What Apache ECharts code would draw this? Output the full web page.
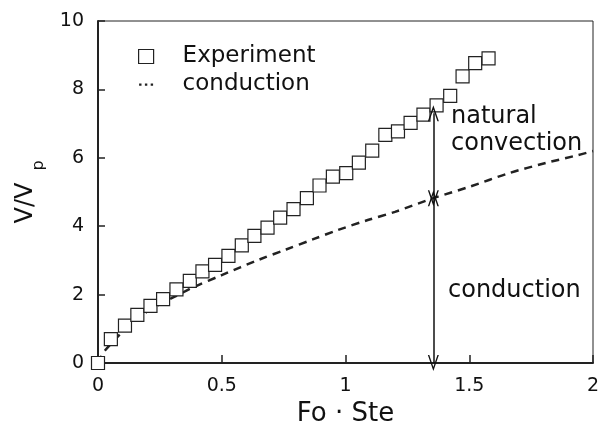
<!DOCTYPE html>
<html>
<head>
<meta charset="utf-8">
<script src="https://cdn.jsdelivr.net/npm/echarts@6/dist/echarts.min.js"></script>
<style>html,body{margin:0;padding:0;background:#fff;}#c{width:608px;height:436px;}</style>
</head>
<body>
<div id="c"></div>
<script>
// Experimental points (squares)
var expX = [0, 0.052, 0.109, 0.159, 0.212, 0.263, 0.317, 0.371, 0.422, 0.473, 0.527, 0.581, 0.632, 0.685, 0.736, 0.790, 0.844, 0.895, 0.949, 1.003, 1.054, 1.108, 1.161, 1.212, 1.263, 1.315, 1.368, 1.423, 1.473, 1.524, 1.578];
var expY = [0, 0.70, 1.09, 1.41, 1.67, 1.87, 2.15, 2.40, 2.68, 2.87, 3.13, 3.44, 3.72, 3.96, 4.25, 4.50, 4.82, 5.19, 5.45, 5.55, 5.86, 6.21, 6.67, 6.77, 7.02, 7.26, 7.53, 7.81, 8.38, 8.77, 8.91];
// Conduction curve (dashed)
var condX = [0, 0.03, 0.15, 0.24, 0.31, 0.39, 0.5, 0.65, 0.76, 0.87, 0.97, 1.09, 1.2, 1.355, 1.5, 1.66, 1.81, 1.94, 2.0];
var condY = [0, 0.38, 1.26, 1.68, 1.94, 2.23, 2.57, 3.02, 3.32, 3.62, 3.89, 4.18, 4.42, 4.82, 5.15, 5.55, 5.85, 6.08, 6.2];
// Axis ticks
var xTicks = [0, 0.5, 1, 1.5, 2];
var yTicks = [0, 2, 4, 6, 8, 10];
// Annotation arrows: x position and levels (0 -> conduction -> experiment)
var arrowX = 1.355;
var arrowLevels = [0, 4.82, 7.3];
var seriesNames = ['Experiment', 'conduction'];
var annotations = ['natural', 'convection', 'conduction'];

function zip(a, b) { return a.map(function (v, i) { return [v, b[i]]; }); }

var FONT = 'DejaVu Sans';
var arrowHead = 'path://M5,0 L10,15 L8.7,15 L5,3.8 L1.3,15 L0,15 Z';
var dottedIcon = 'path://M0,0L0.01,0Z M15,14L15.01,14Z M0.5,6h2.4v2.2h-2.4z M6.3,6h2.4v2.2h-2.4z M12.1,6h2.4v2.2h-2.4z';

var chart = echarts.init(document.getElementById('c'), null, { renderer: 'canvas' });
chart.setOption({
  backgroundColor: '#fff',
  animation: false,
  grid: { left: 98, right: 15, top: 21, bottom: 73, show: true, borderColor: '#222', borderWidth: 1, containLabel: false, outerBoundsMode: 'none' },
  legend: {
    orient: 'vertical', left: 138, top: 45, itemWidth: 15, itemHeight: 14, itemGap: 5, padding: 0,
    textStyle: { fontFamily: FONT, fontSize: 23, color: '#111', padding: [0, 0, 0, 24] },
    data: [
      { name: seriesNames[0], icon: 'rect', itemStyle: { color: '#fff', borderColor: '#222', borderWidth: 1.2 } },
      { name: seriesNames[1], icon: dottedIcon, itemStyle: { color: '#222', borderWidth: 0 } }
    ]
  },
  xAxis: {
    type: 'value', min: xTicks[0], max: xTicks[xTicks.length - 1], interval: xTicks[1] - xTicks[0],
    name: 'Fo · Ste', nameLocation: 'middle', nameGap: 36,
    nameTextStyle: { fontFamily: FONT, fontSize: 26, color: '#111' },
    axisLine: { show: true, lineStyle: { color: '#222', width: 2 } },
    axisTick: { show: true, inside: true, length: 8, lineStyle: { color: '#222', width: 1.5 } },
    axisLabel: { fontFamily: FONT, fontSize: 19, color: '#111', margin: 14 },
    splitLine: { show: false }
  },
  yAxis: {
    type: 'value', min: yTicks[0], max: yTicks[yTicks.length - 1], interval: yTicks[1] - yTicks[0],
    name: '{a|V/V}{b|p}', nameLocation: 'middle', nameGap: 57, nameRotate: 90,
    nameTextStyle: {
      fontFamily: FONT, color: '#111',
      rich: {
        a: { fontFamily: FONT, fontSize: 24, color: '#111', lineHeight: 30 },
        b: { fontFamily: FONT, fontSize: 16, color: '#111', lineHeight: 30, padding: [26, 0, 0, 12] }
      }
    },
    axisLine: { show: true, lineStyle: { color: '#222', width: 2 } },
    axisTick: { show: true, inside: true, length: 7, lineStyle: { color: '#222', width: 1.5 } },
    axisLabel: { fontFamily: FONT, fontSize: 19, color: '#111', margin: 14 },
    splitLine: { show: false }
  },
  series: [
    {
      name: seriesNames[1], type: 'line', data: zip(condX, condY), smooth: 0.3,
      showSymbol: false, symbol: 'none', z: 2,
      itemStyle: { color: '#222' },
      lineStyle: { color: '#222', width: 2.5, type: [8, 6] },
      markLine: {
        silent: true, symbol: [arrowHead, arrowHead], symbolSize: [11, 16],
        lineStyle: { type: 'solid', color: '#111', width: 1.5 },
        label: { show: false },
        data: [
          [{ coord: [arrowX, arrowLevels[0]] }, { coord: [arrowX, arrowLevels[1]] }],
          [{ coord: [arrowX, arrowLevels[1]] }, { coord: [arrowX, arrowLevels[2]] }]
        ]
      }
    },
    {
      name: seriesNames[0], type: 'scatter', data: zip(expX, expY), symbol: 'rect', symbolSize: 13, z: 3,
      itemStyle: { color: '#fff', borderColor: '#222', borderWidth: 1.2, opacity: 1 }
    }
  ],
  graphic: [
    { type: 'text', left: 451, top: 105, style: { text: annotations[0], font: '24px "DejaVu Sans"', fill: '#111' } },
    { type: 'text', left: 451, top: 132, style: { text: annotations[1], font: '24px "DejaVu Sans"', fill: '#111' } },
    { type: 'text', left: 448, top: 279, style: { text: annotations[2], font: '24px "DejaVu Sans"', fill: '#111' } }
  ]
});
</script>
</body>
</html>
